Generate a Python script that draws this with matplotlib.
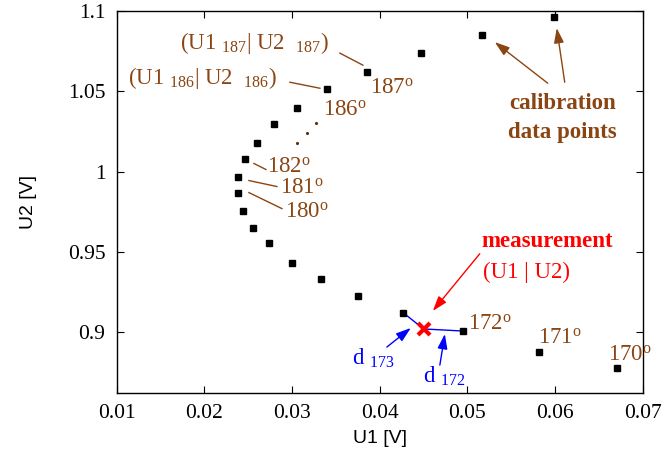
import matplotlib
matplotlib.use("Agg")
import matplotlib.pyplot as plt

plt.rcParams['font.family'] = ['Liberation Serif', 'DejaVu Serif']
plt.rcParams['mathtext.fontset'] = 'custom'
plt.rcParams['mathtext.rm'] = 'Liberation Serif'
plt.rcParams['mathtext.it'] = 'Liberation Serif:italic'
plt.rcParams['mathtext.bf'] = 'Liberation Serif:bold'

# calibration curve, 187 deg at index 3 down to 170 deg at the end
u1_cal = [0.0599, 0.0517, 0.0447, 0.0386, 0.0340, 0.0306, 0.0279, 0.0260,
          0.0246, 0.0238, 0.0238, 0.0244, 0.0255, 0.0274, 0.0300, 0.0333,
          0.0375, 0.0427, 0.0495, 0.0582, 0.0670]
u2_cal = [1.0963, 1.0850, 1.0738, 1.0619, 1.0513, 1.0394, 1.0294, 1.0175,
          1.0075, 0.9963, 0.9863, 0.9756, 0.9650, 0.9556, 0.9431, 0.9331,
          0.9225, 0.9119, 0.9006, 0.8875, 0.8775]
i173, i172 = 17, 18

# measurement
u1_meas = 0.0450
u2_meas = 0.9019

# "..." between 186 and 182
dots_u1 = [0.03056, 0.0317, 0.03272]
dots_u2 = [1.0175, 1.02375, 1.03]

brown = '#8b4513'
fs = 16.5

fig = plt.figure(figsize=(6.65, 4.59), dpi=100)
ax = fig.add_axes([0.1752, 0.1438, 0.7917, 0.8322])

ax.plot(u1_cal, u2_cal, 's', color='black', ms=5, zorder=3)
ax.plot(dots_u1, dots_u2, '.', color='#5a3010', ms=2.5)

# distances to the neighbouring calibration points
ax.plot([u1_cal[i173], u1_meas, u1_cal[i172]],
        [u2_cal[i173], u2_meas, u2_cal[i172]], color='blue', lw=1)
ax.plot(u1_meas, u2_meas, 'x', color='red', ms=8, mew=3, zorder=4)

ax.set_xlim(0.01, 0.07)
ax.set_ylim(0.862, 1.1)
ax.set_xticks([0.01, 0.02, 0.03, 0.04, 0.05, 0.06, 0.07])
ax.set_xticklabels(['0.01', '0.02', '0.03', '0.04', '0.05', '0.06', '0.07'])
ax.set_yticks([0.9, 0.95, 1.0, 1.05, 1.1])
ax.set_yticklabels(['0.9', '0.95', '1', '1.05', '1.1'])
ax.tick_params(direction='in', length=5, width=0.8, top=True, right=True,
               labelsize=15.5, pad=8)
for s in ax.spines.values():
    s.set_linewidth(1.0)

ax.set_xlabel('U1 [V]', family='Liberation Sans', fontsize=14, labelpad=5)
ax.set_ylabel('U2 [V]', family='Liberation Sans', fontsize=14, labelpad=22)

# labels of the calibration points
ax.text(0.01723, 1.080, r'(U1 $_{187}$| U2  $_{187}$)', color=brown, fontsize=fs, va='center')
ax.text(0.01131, 1.0581, r'(U1 $_{186}$| U2  $_{186}$)', color=brown, fontsize=fs, va='center')
ax.plot([0.03546, 0.03808], [1.07375, 1.06625], color=brown, lw=1)
ax.plot([0.02976, 0.03318], [1.05563, 1.05188], color=brown, lw=1)

deg_labels = [('187', 0.03887, 1.0520), ('186', 0.03352, 1.0385),
              ('182', 0.02714, 1.0028), ('181', 0.02862, 0.9894),
              ('180', 0.02919, 0.9744), ('172', 0.05003, 0.9050),
              ('171', 0.05800, 0.8962), ('170', 0.06598, 0.8856)]
for t, x, y in deg_labels:
    ax.text(x, y, t + r'$^{\rm o}$', color=brown, fontsize=fs, va='center')

ax.plot([0.02566, 0.02703], [1.0050, 1.00125], color=brown, lw=1)
ax.plot([0.02509, 0.02828], [0.99438, 0.99063], color=brown, lw=1)
ax.plot([0.02509, 0.02885], [0.98688, 0.97688], color=brown, lw=1)

head = '-|>,head_length=0.75,head_width=0.25'

# calibration note
ax.text(0.0608, 1.0425, 'calibration', color=brown, fontsize=fs, fontweight='bold',
        ha='center', va='center')
ax.text(0.0608, 1.0244, 'data points', color=brown, fontsize=fs, fontweight='bold',
        ha='center', va='center')
arr = dict(arrowstyle=head, color=brown, lw=1, mutation_scale=12, shrinkA=0, shrinkB=0)
ax.annotate('', xy=(0.05311, 1.08063), xytext=(0.05915, 1.0550), arrowprops=arr)
ax.annotate('', xy=(0.06017, 1.08938), xytext=(0.06108, 1.05563), arrowprops=arr)

# measurement note
ax.text(0.05163, 0.95625, 'measurement', color='red', fontsize=fs, fontweight='bold',
        va='center')
ax.text(0.05174, 0.93688, '(U1 | U2)', color='red', fontsize=fs, va='center')
ax.annotate('', xy=(0.04605, 0.91313), xytext=(0.0514, 0.94875),
            arrowprops=dict(arrowstyle=head, color='red', lw=1, mutation_scale=12,
                            shrinkA=0, shrinkB=0))

# distance labels
ax.text(0.03682, 0.8838, r'd $_{173}$', color='blue', fontsize=fs, va='center')
ax.text(0.04491, 0.8725, r'd $_{172}$', color='blue', fontsize=fs, va='center')
barr = dict(arrowstyle=head, color='blue', lw=1, mutation_scale=12, shrinkA=0, shrinkB=0)
ax.annotate('', xy=(0.04354, 0.9025), xytext=(0.04081, 0.89063), arrowprops=barr)
ax.annotate('', xy=(0.04742, 0.89875), xytext=(0.04685, 0.87938), arrowprops=barr)

fig.savefig('out.png', dpi=100)
